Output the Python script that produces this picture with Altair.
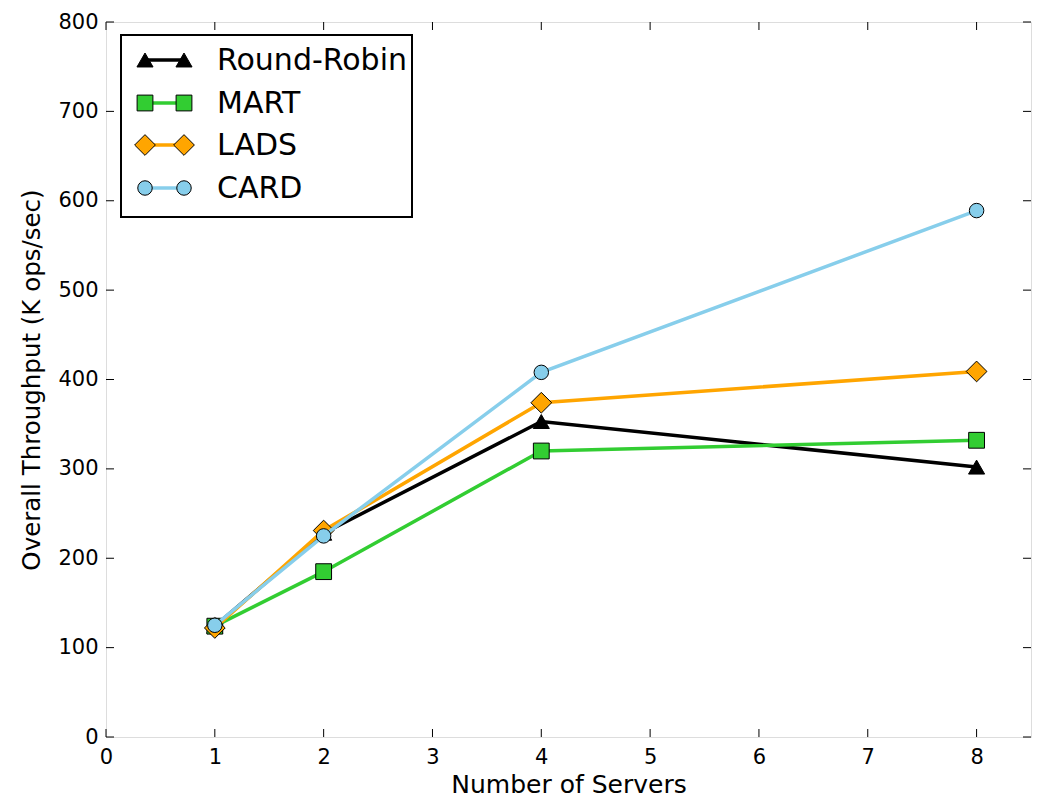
import altair as alt
import pandas as pd

servers = [1, 2, 4, 8]
series_names = ["Round-Robin", "MART", "LADS", "CARD"]
rr = [124, 228, 353, 302]
mart = [124, 185, 320, 332]
lads = [122, 231, 374, 409]
card = [125, 225, 408, 589]
values = [rr, mart, lads, card]

line_colors = ["#000000", "#32CD32", "#FFA500", "#87CEEB"]
shapes = ["triangle-up", "square", "diamond", "circle"]
sizes = [260, 250, 430, 210]

x_ticks = [0, 1, 2, 3, 4, 5, 6, 7, 8]
y_ticks = [0, 100, 200, 300, 400, 500, 600, 700, 800]

W, H = 925, 715
FONT = "DejaVu Sans"

xscale = alt.Scale(domain=[0, 8.5], nice=False, zero=False)
yscale = alt.Scale(domain=[0, 800], nice=False)

base_x = alt.X("x:Q", scale=xscale,
               axis=alt.Axis(values=x_ticks, title="Number of Servers", grid=False,
                             ticks=False, domain=False, labelFontSize=21, titleFontSize=25,
                             labelPadding=9, titlePadding=5, labelColor="black",
                             titleColor="black", titleFontWeight="normal", labelFont=FONT,
                             titleFont=FONT, format="d", labelFlush=False))
base_y = alt.Y("y:Q", scale=yscale,
               axis=alt.Axis(values=y_ticks, title="Overall Throughput (K ops/sec)", grid=False,
                             ticks=False, domain=False, labelFontSize=21, titleFontSize=24.5,
                             labelPadding=8, titlePadding=13, labelColor="black",
                             titleColor="black", titleFontWeight="normal", labelFont=FONT,
                             titleFont=FONT, format="d", labelFlush=False))

layers = []
for name, vals, col, shp, sz in zip(series_names, values, line_colors, shapes, sizes):
    df = pd.DataFrame({"x": servers, "y": vals, "series": name})
    line = alt.Chart(df).mark_line(color=col, strokeWidth=3.5).encode(x=base_x, y=base_y)
    pts = alt.Chart(df).mark_point(shape=shp, size=sz, filled=True, fill=col, stroke="black",
                                   strokeWidth=1, opacity=1).encode(x=base_x, y=base_y)
    layers += [line, pts]

# inward ticks on all four sides
xt = pd.DataFrame({"x": x_ticks})
yt = pd.DataFrame({"y": y_ticks})
tick_x_bottom = alt.Chart(xt).mark_rule(color="black", strokeWidth=1).encode(
    x=alt.X("x:Q", scale=xscale), y=alt.value(H), y2=alt.value(H - 8))
tick_x_top = alt.Chart(xt).mark_rule(color="black", strokeWidth=1).encode(
    x=alt.X("x:Q", scale=xscale), y=alt.value(0), y2=alt.value(8))
tick_y_left = alt.Chart(yt).mark_rule(color="black", strokeWidth=1).encode(
    y=alt.Y("y:Q", scale=yscale), x=alt.value(0), x2=alt.value(8))
tick_y_right = alt.Chart(yt).mark_rule(color="black", strokeWidth=1).encode(
    y=alt.Y("y:Q", scale=yscale), x=alt.value(W), x2=alt.value(W - 8))
layers += [tick_x_bottom, tick_x_top, tick_y_left, tick_y_right]

# legend
one = pd.DataFrame({"k": [0]})
legend_box = alt.Chart(one).mark_rect(fill="white", stroke="black", strokeWidth=2).encode(
    x=alt.value(15), x2=alt.value(306), y=alt.value(13), y2=alt.value(195))
layers.append(legend_box)
row_y = [38, 81, 123, 166]
for name, col, shp, sz, ry in zip(series_names, line_colors, shapes, sizes, row_y):
    d = pd.DataFrame({"series": [name]})
    layers.append(alt.Chart(d).mark_rule(color=col, strokeWidth=3.5).encode(
        x=alt.value(39), x2=alt.value(78), y=alt.value(ry)))
    for px in (39, 78):
        layers.append(alt.Chart(d).mark_point(shape=shp, size=sz, filled=True, fill=col,
                                              stroke="black", strokeWidth=1, opacity=1).encode(
            x=alt.value(px), y=alt.value(ry)))
    layers.append(alt.Chart(d).mark_text(align="left", baseline="middle", fontSize=30,
                                         font=FONT, color="black").encode(
        x=alt.value(111), y=alt.value(ry + 1), text="series:N"))

chart = alt.layer(*layers).properties(
    width=W, height=H, autosize="none",
    padding={"left": 106, "top": 22, "right": 14, "bottom": 66},
).configure_view(stroke="black", strokeWidth=2).configure(font=FONT, background="white")

chart.save("out.html", embed_options={"renderer": "svg", "actions": False})
